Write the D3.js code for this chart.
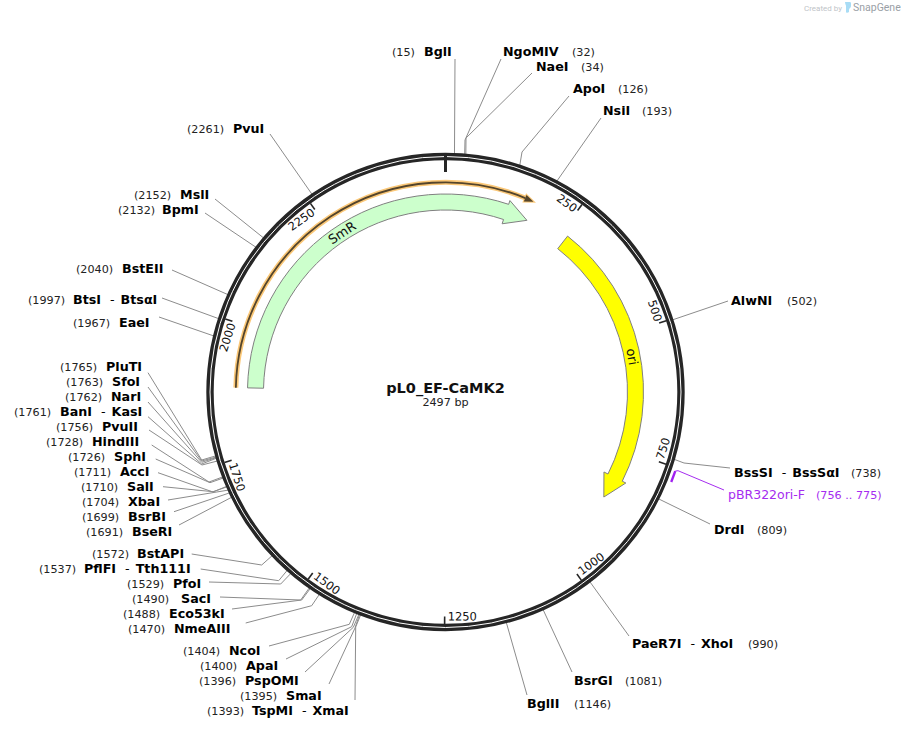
<!DOCTYPE html>
<html lang="en">
<head>
<meta charset="UTF-8">
<title>pL0_EF-CaMK2</title>
<script src="https://d3js.org/d3.v7.min.js"></script>
<style>
    html, body { margin: 0; padding: 0; background: #fff; }
    svg { display: block; }
    text { font-family: "DejaVu Sans", sans-serif; }
</style>
</head>
<body>
<svg id="map" width="901" height="729" viewBox="0 0 901 729"></svg>
<script>
// plasmid
const plasmidName = "pL0_EF-CaMK2";
const plasmidLength = 2497;
const rulerTicks = [250, 500, 750, 1000, 1250, 1500, 1750, 2000, 2250];

// restriction sites
const enzymeNames = ["BglI", "NgoMIV", "NaeI", "ApoI", "NsiI", "AlwNI", "BssSI - BssSαI", "DrdI", "PaeR7I - XhoI",
    "BsrGI", "BglII", "TspMI - XmaI", "SmaI", "PspOMI", "ApaI", "NcoI", "NmeAIII", "Eco53kI", "SacI", "PfoI",
    "PflFI - Tth111I", "BstAPI", "BseRI", "BsrBI", "XbaI", "SalI", "AccI", "SphI", "HindIII", "PvuII",
    "BanI - KasI", "NarI", "SfoI", "PluTI", "EaeI", "BtsI - BtsαI", "BstEII", "BpmI", "MslI", "PvuI"];
const enzymeSites = [15, 32, 34, 126, 193, 502, 738, 809, 990,
    1081, 1146, 1393, 1395, 1396, 1400, 1404, 1470, 1488, 1490, 1529,
    1537, 1572, 1691, 1699, 1704, 1710, 1711, 1726, 1728, 1756,
    1761, 1762, 1763, 1765, 1967, 1997, 2040, 2132, 2152, 2261];

// features
const featureNames = ["ori", "SmR"];
const featureStarts = [264, 1881];
const featureEnds = [857, 2673]; // SmR runs through the origin, ends at 176
const featureColors = ["#ffff00", "#ccffcc"];
const featureLabelSites = [550, 2268];
const outlineStart = 1881, outlineEnd = 2669;

// primer
const primerName = "pBR322ori-F";
const primerStart = 756, primerEnd = 775;

// label placement: [number x, name x, baseline y, leader end x, leader end y, elbow x, elbow y]
const labelPlaces = [
    [392, 424, 56, 455, 59], [572, 503, 56, 501, 59, 465, 140], [581, 536, 71, 532, 73, 466, 138],
    [618, 573, 93, 569, 96, 522, 152], [642, 603, 115, 601, 118],
    [787, 731, 305, 728, 301], [851, 734, 477, 730, 468, 684, 463], [757, 714, 534, 710, 524],
    [748, 632, 648, 629, 636], [625, 574, 685, 572, 672], [574, 527, 708, 527, 695],
    [207, 252, 715, 355, 700, 355.7, 627], [240, 286, 700, 329, 684, 355, 628], [199, 245, 685, 305, 672, 353.3, 627.3],
    [200, 246, 670, 286, 659, 351.7, 626.7], [183, 229, 655, 269, 646, 349.3, 624.3],
    [128, 174, 633, 245.7, 623, 311.7, 605.7], [123, 169, 618, 232, 609, 301.7, 600],
    [132, 181, 603, 220, 597, 300.7, 600], [127, 173, 588, 209, 582, 280.7, 584],
    [39, 84, 573, 200.7, 569, 278.7, 580.7], [92, 137, 558, 191.7, 554, 261.7, 565],
    [86, 132, 536, 179, 525], [82, 128, 521, 174, 511.7], [82, 128, 506, 168, 500],
    [81, 127, 491, 163, 486.7, 213, 491.7], [74, 120, 476, 158, 472.7, 213, 492],
    [68, 114, 461, 155.7, 459, 210, 482.7], [46, 92, 446, 151.7, 445, 209, 482],
    [56, 102, 431, 149, 430, 202, 465], [14, 60, 416, 148, 416.7, 201.7, 464],
    [65, 111, 401, 148, 402, 201.7, 462.3], [66, 112, 386, 148, 387, 201.7, 461],
    [60, 106, 371, 148, 372.7, 201.7, 460],
    [73, 119, 327, 159, 317], [28, 73, 304, 162, 298], [76, 122, 273, 172, 270],
    [118, 162, 214, 205, 213], [134, 180, 199, 215, 199], [187, 233, 133, 270, 134]
];

const cx = 445.5, cy = 392;
const svg = d3.select("#map");

// bp to radians, clockwise from 12 o'clock
const angle = d3.scaleLinear().domain([0, plasmidLength]).range([0, 2 * Math.PI]);
const polar = (bp, r) => [cx + r * Math.sin(angle(bp)), cy - r * Math.cos(angle(bp))];
const deg = bp => angle(bp) * 180 / Math.PI;

function arrowPath(start, end, headLen, rIn, rOut, headIn, headOut) {
    const p = d3.path();
    const a0 = angle(start) - Math.PI / 2, a1 = angle(end - headLen) - Math.PI / 2;
    p.arc(cx, cy, rOut, a0, a1);
    p.lineTo(...polar(end - headLen, headOut));
    p.lineTo(...polar(end, (rIn + rOut) / 2));
    p.lineTo(...polar(end - headLen, headIn));
    p.lineTo(...polar(end - headLen, rIn));
    p.arc(cx, cy, rIn, a1, a0, true);
    p.closePath();
    return p.toString();
}

// leader lines
const leaders = svg.append("g").attr("fill", "none").attr("stroke", "#8c8c8c").attr("stroke-width", 1);
enzymeNames.forEach((name, i) => {
    const pl = labelPlaces[i];
    const pts = [[pl[3], pl[4]]];
    if (pl.length > 5) pts.push([pl[5], pl[6]]);
    pts.push(polar(enzymeSites[i], 238));
    leaders.append("path").attr("d", d3.line()(pts));
});

// backbone
svg.append("circle").attr("cx", cx).attr("cy", cy).attr("r", 235.5)
    .attr("fill", "none").attr("stroke", "#262626").attr("stroke-width", 7.4);
svg.append("circle").attr("cx", cx).attr("cy", cy).attr("r", 235.5)
    .attr("fill", "none").attr("stroke", "#fff").attr("stroke-width", 1);

// zero mark and ruler
const zeroA = polar(0, 236), zeroB = polar(0, 220);
svg.append("line").attr("x1", zeroA[0]).attr("y1", zeroA[1]).attr("x2", zeroB[0]).attr("y2", zeroB[1])
    .attr("stroke", "#262626").attr("stroke-width", 3);

rulerTicks.forEach(t => {
    const a = polar(t, 232), b = polar(t, 224.5);
    svg.append("line").attr("x1", a[0]).attr("y1", a[1]).attr("x2", b[0]).attr("y2", b[1])
        .attr("stroke", "#262626").attr("stroke-width", 1.6);
    const lower = deg(t) > 90 && deg(t) <= 270;
    const rot = lower ? deg(t) - 180 : deg(t);
    const pos = polar(t, lower ? 227.3 : 228.8);
    svg.append("text")
        .attr("transform", `translate(${pos[0]},${pos[1]}) rotate(${rot})`)
        .attr("text-anchor", lower ? "start" : "end")
        .attr("x", lower ? 3 : -2)
        .attr("dy", lower ? "0.1em" : "0.75em")
        .attr("font-size", 11.5)
        .attr("fill", "#111")
        .text(t);
});

// orange outline arrow
const outline = d3.path();
outline.arc(cx, cy, 209.7, angle(outlineStart) - Math.PI / 2, angle(outlineEnd - 17) - Math.PI / 2);
const outlineHead = arrowPath(outlineEnd - 17, outlineEnd, 17, 209.2, 210.2, 206, 213);
svg.append("path").attr("d", outline.toString()).attr("fill", "none")
    .attr("stroke", "#fbc878").attr("stroke-width", 5);
svg.append("path").attr("d", outlineHead).attr("fill", "#fbc878").attr("stroke", "#fbc878").attr("stroke-width", 2);
svg.append("path").attr("d", outline.toString()).attr("fill", "none")
    .attr("stroke", "#54452c").attr("stroke-width", 1.8);
svg.append("path").attr("d", outlineHead).attr("fill", "#54452c");

// features
featureNames.forEach((name, i) => {
    svg.append("path")
        .attr("d", arrowPath(featureStarts[i], featureEnds[i], 47, 182, 198, 177.5, 202))
        .attr("fill", featureColors[i])
        .attr("stroke", "#808080")
        .attr("stroke-width", 1);
    const pos = polar(featureLabelSites[i], 190);
    const a = deg(featureLabelSites[i]);
    svg.append("text")
        .attr("transform", `translate(${pos[0]},${pos[1]}) rotate(${a})`)
        .attr("text-anchor", "middle")
        .attr("dy", "0.35em")
        .attr("font-size", 13)
        .attr("fill", "#111")
        .text(name);
});

// primer
const prA = polar(primerStart, 243), prB = polar(primerEnd, 243);
svg.append("path").attr("d", d3.line()([[724, 490], [678, 470.7], prA]))
    .attr("fill", "none").attr("stroke", "#a52cf0").attr("stroke-width", 1);
svg.append("line").attr("x1", prA[0]).attr("y1", prA[1]).attr("x2", prB[0]).attr("y2", prB[1])
    .attr("stroke", "#a020f0").attr("stroke-width", 2.4);
svg.append("text").attr("x", 728).attr("y", 499).attr("font-size", 12.5).attr("fill", "#a52cf0").text(primerName);
svg.append("text").attr("x", 816).attr("y", 499).attr("font-size", 11.2).attr("fill", "#a52cf0")
    .text(`(${primerStart} .. ${primerEnd})`);

// enzyme labels
const labels = svg.append("g").attr("fill", "#000");
enzymeNames.forEach((name, i) => {
    const pl = labelPlaces[i];
    labels.append("text").attr("x", pl[0]).attr("y", pl[2]).attr("font-size", 11.2).attr("fill", "#222")
        .text(`(${enzymeSites[i]})`);
    const t = labels.append("text").attr("x", pl[1]).attr("y", pl[2]).attr("font-size", 12.7);
    name.split(" - ").forEach((part, j) => {
        if (j > 0) t.append("tspan").attr("dx", 9).attr("font-weight", "normal").text("-");
        t.append("tspan").attr("dx", j > 0 ? 6 : 0).attr("font-weight", "bold").text(part);
    });
});

// centre title
svg.append("text").attr("x", cx).attr("y", 393).attr("text-anchor", "middle")
    .attr("font-size", 14.5).attr("font-weight", "bold").attr("fill", "#111").text(plasmidName);
svg.append("text").attr("x", cx).attr("y", 406).attr("text-anchor", "middle")
    .attr("font-size", 11.2).attr("fill", "#222").text(`${plasmidLength} bp`);

// watermark
svg.append("text").attr("x", 804).attr("y", 10.5).attr("font-size", 8).style("font-family", "Roboto")
    .attr("fill", "#c0c4c8").text("Created by");
svg.append("path").attr("d", "M845 2h5c1 0 1 1 1 2v2c0 2-2 2-2 4v2c-1 1-3 1-3 0v-6c0-1-1-2-1-4z").attr("fill", "#a8dcf5");
svg.append("text").attr("x", 853).attr("y", 11).attr("font-size", 10.5).style("font-family", "Roboto")
    .attr("fill", "#9aa0a6").text("SnapGene");
</script>
</body>
</html>
